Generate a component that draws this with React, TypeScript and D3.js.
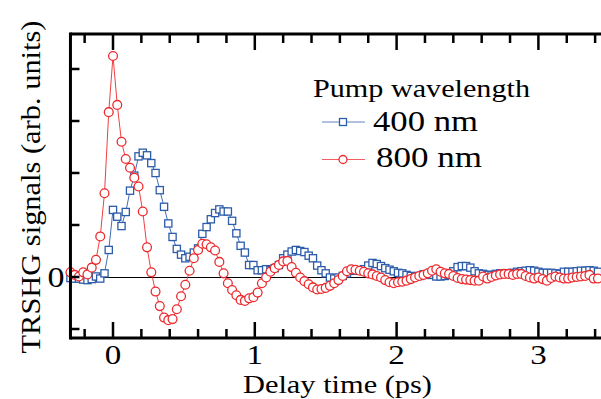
import React from "react";
import * as d3 from "d3";

// Delay times (ps)
const delays: number[] = [
  -0.30, -0.27, -0.24, -0.21, -0.18, -0.15, -0.12, -0.09, -0.06, -0.03,
  0.00, 0.03, 0.06, 0.09, 0.12, 0.15, 0.18, 0.21, 0.24, 0.27,
  0.30, 0.33, 0.36, 0.39, 0.42, 0.45, 0.48, 0.51, 0.54, 0.57,
  0.60, 0.63, 0.66, 0.69, 0.72, 0.75, 0.78, 0.81, 0.84, 0.87,
  0.90, 0.93, 0.96, 0.99, 1.02, 1.05, 1.08, 1.11, 1.14, 1.17,
  1.20, 1.23, 1.26, 1.29, 1.32, 1.35, 1.38, 1.41, 1.44, 1.47,
  1.50, 1.53, 1.56, 1.59, 1.62, 1.65, 1.68, 1.71, 1.74, 1.77,
  1.80, 1.83, 1.86, 1.89, 1.92, 1.95, 1.98, 2.01, 2.04, 2.07,
  2.10, 2.13, 2.16, 2.19, 2.22, 2.25, 2.28, 2.31, 2.34, 2.37,
  2.40, 2.43, 2.46, 2.49, 2.52, 2.55, 2.58, 2.61, 2.64, 2.67,
  2.70, 2.73, 2.76, 2.79, 2.82, 2.85, 2.88, 2.91, 2.94, 2.97,
  3.00, 3.03, 3.06, 3.09, 3.12, 3.15, 3.18, 3.21, 3.24, 3.27,
  3.30, 3.33, 3.36, 3.39, 3.42,
];

// 400 nm pump (blue squares)
const signal400: number[] = [
  -0.02, -0.03, -0.03, -0.05, -0.06, -0.04, 0.01, -0.03, 0.07, 0.52,
  1.29, 1.16, 0.98, 1.25, 1.66, 1.95, 2.32, 2.39, 2.34, 2.19,
  2.00, 1.67, 1.35, 1.03, 0.77, 0.54, 0.43, 0.36, 0.39, 0.47,
  0.55, 0.83, 0.96, 1.11, 1.23, 1.30, 1.26, 1.26, 1.08, 0.84,
  0.60, 0.47, 0.23, 0.23, 0.13, 0.13, 0.15, 0.13, 0.17, 0.23,
  0.36, 0.43, 0.49, 0.52, 0.50, 0.48, 0.41, 0.36, 0.22, 0.13,
  0.07, -0.01, -0.03, -0.01, 0.02, 0.07, 0.12, 0.12, 0.13, 0.15,
  0.22, 0.27, 0.25, 0.21, 0.17, 0.14, 0.11, 0.08, 0.07, 0.04,
  0.02, 0.01, 0.02, 0.05, 0.05, 0.04, 0.01, 0.01, 0.02, 0.04,
  0.11, 0.19, 0.21, 0.21, 0.18, 0.11, 0.07, 0.06, 0.04, 0.04,
  0.06, 0.07, 0.06, 0.07, 0.08, 0.10, 0.11, 0.12, 0.13, 0.12,
  0.10, 0.08, 0.08, 0.08, 0.07, 0.06, 0.10, 0.10, 0.10, 0.11,
  0.12, 0.12, 0.13, 0.12, 0.10,
];

// 800 nm pump (red circles)
const signal800: number[] = [
  0.09, 0.04, 0.01, 0.09, 0.05, 0.18, 0.33, 0.78, 1.61, 3.17,
  4.25, 3.31, 2.60, 2.27, 2.10, 1.91, 1.74, 1.26, 0.57, 0.09,
  -0.28, -0.56, -0.78, -0.83, -0.81, -0.62, -0.37, -0.15, 0.12, 0.36,
  0.52, 0.64, 0.63, 0.57, 0.51, 0.29, 0.07, -0.12, -0.25, -0.35,
  -0.44, -0.46, -0.41, -0.39, -0.30, -0.12, -0.01, 0.10, 0.17, 0.23,
  0.30, 0.31, 0.19, 0.08, -0.01, -0.08, -0.14, -0.20, -0.24, -0.23,
  -0.21, -0.17, -0.12, -0.06, 0.02, 0.11, 0.15, 0.14, 0.12, 0.10,
  0.07, 0.05, 0.02, -0.01, -0.06, -0.10, -0.12, -0.10, -0.09, -0.07,
  -0.04, -0.01, 0.02, 0.04, 0.07, 0.12, 0.15, 0.10, 0.07, 0.06,
  0.02, -0.02, -0.04, -0.05, -0.06, -0.07, -0.07, 0.01, -0.03, 0.00,
  0.03, 0.05, 0.06, 0.06, 0.04, 0.06, 0.06, 0.02, -0.01, -0.03,
  -0.01, -0.04, -0.07, -0.02, 0.01, -0.01, -0.03, -0.03, -0.01, 0.00,
  0.01, 0.02, 0.04, -0.03, -0.03,
];

const xMajorTicks: number[] = [0, 1, 2, 3];
const xMinorTicks: number[] = [-0.2, 0.2, 0.4, 0.6, 0.8, 1.2, 1.4, 1.6, 1.8, 2.2, 2.4, 2.6, 2.8, 3.2, 3.4];
const yTicks: number[] = [-1, 0, 1, 2, 3, 4];
const yTickLabels: number[] = [0];

const legendTitle = "Pump wavelength";
const seriesNames: string[] = ["400 nm", "800 nm"];

const W = 601;
const H = 399;
const BLUE = "#2d5caa";
const RED = "#ec2a2e";
const FONT = "Liberation Serif";

export default function App() {
  const x = d3.scaleLinear().domain([0, 3]).range([113, 538.4]);
  const y = d3.scaleLinear().domain([0, 1]).range([277, 225]);
  const left = x(-0.3);
  const top = 34;
  const bottom = 338;
  const right = W + 5;

  const line = d3
    .line<number>()
    .x((_, i) => x(delays[i]))
    .y((d) => y(d));

  return (
    <svg
      width={W}
      height={H}
      style={{ position: "absolute", left: 0, top: 0, background: "#fff" }}
    >
      {/* zero line */}
      <line x1={left} x2={right} y1={y(0) + 0.5} y2={y(0) + 0.5} stroke="#000" strokeWidth={1} />

      {/* blue series */}
      <path d={line(signal400) || ""} fill="none" stroke={BLUE} strokeWidth={0.9} />
      {signal400.map((v, i) => (
        <rect
          key={"b" + i}
          x={x(delays[i]) - 3.6}
          y={y(v) - 3.6}
          width={7.2}
          height={7.2}
          fill="#fff"
          stroke={BLUE}
          strokeWidth={1.3}
        />
      ))}

      {/* red series */}
      <path d={line(signal800) || ""} fill="none" stroke={RED} strokeWidth={0.9} />
      {signal800.map((v, i) => (
        <circle
          key={"r" + i}
          cx={x(delays[i])}
          cy={y(v)}
          r={4.4}
          fill="#fff"
          stroke={RED}
          strokeWidth={1.3}
        />
      ))}

      {/* frame */}
      <line x1={left} x2={left} y1={top - 1.5} y2={bottom + 1.5} stroke="#000" strokeWidth={3} />
      <line x1={left} x2={right} y1={top} y2={top} stroke="#000" strokeWidth={3} />
      <line x1={left} x2={right} y1={bottom} y2={bottom} stroke="#000" strokeWidth={3} />

      {/* x ticks */}
      {xMajorTicks.map((t) => (
        <g key={"xm" + t}>
          <line x1={x(t)} x2={x(t)} y1={bottom} y2={bottom - 16} stroke="#000" strokeWidth={2.5} />
          <line x1={x(t)} x2={x(t)} y1={top} y2={top + 16} stroke="#000" strokeWidth={2.5} />
        </g>
      ))}
      {xMinorTicks.map((t) => (
        <g key={"xn" + t}>
          <line x1={x(t)} x2={x(t)} y1={bottom} y2={bottom - 9} stroke="#000" strokeWidth={2.5} />
          <line x1={x(t)} x2={x(t)} y1={top} y2={top + 9} stroke="#000" strokeWidth={2.5} />
        </g>
      ))}

      {/* y ticks */}
      {yTicks.map((t) => (
        <line key={"y" + t} x1={left} x2={left + 9} y1={y(t)} y2={y(t)} stroke="#000" strokeWidth={2.5} />
      ))}

      <g fontFamily={FONT} fill="#000">
        {xMajorTicks.map((t) => (
          <text key={"xl" + t} x={x(t)} y={364} textAnchor="middle" fontSize="28px" textLength={16.5} lengthAdjust="spacingAndGlyphs">
            {String(t)}
          </text>
        ))}
        {yTickLabels.map((t) => (
          <text key={"yl" + t} x={left - 6} y={y(t) + 10} textAnchor="end" fontSize="29px" textLength={17} lengthAdjust="spacingAndGlyphs">
            {String(t)}
          </text>
        ))}

        {/* axis titles */}
        <text x={337.5} y={393} textAnchor="middle" fontSize="25.5px" textLength={189} lengthAdjust="spacingAndGlyphs">
          Delay time (ps)
        </text>
        <text
          transform={`translate(40, 187) rotate(-90)`}
          textAnchor="middle"
          fontSize="27px"
          textLength={333}
          lengthAdjust="spacingAndGlyphs"
        >
          TRSHG signals (arb. units)
        </text>

        {/* legend */}
        <text x={313} y={97} fontSize="24.5px" textLength={217} lengthAdjust="spacingAndGlyphs">
          {legendTitle}
        </text>
        <text x={373} y={131} fontSize="30px" textLength={105} lengthAdjust="spacingAndGlyphs">
          {seriesNames[0]}
        </text>
        <text x={376} y={167} fontSize="30px" textLength={106} lengthAdjust="spacingAndGlyphs">
          {seriesNames[1]}
        </text>
      </g>

      <line x1={322} x2={365} y1={122} y2={122} stroke={BLUE} strokeWidth={1} opacity={0.75} />
      <rect x={339.5} y={118.5} width={7} height={7} fill="#fff" stroke={BLUE} strokeWidth={1.3} />
      <line x1={322} x2={365} y1={159.5} y2={159.5} stroke={RED} strokeWidth={1} opacity={0.75} />
      <circle cx={343} cy={159.5} r={4} fill="#fff" stroke={RED} strokeWidth={1.3} />
    </svg>
  );
}
